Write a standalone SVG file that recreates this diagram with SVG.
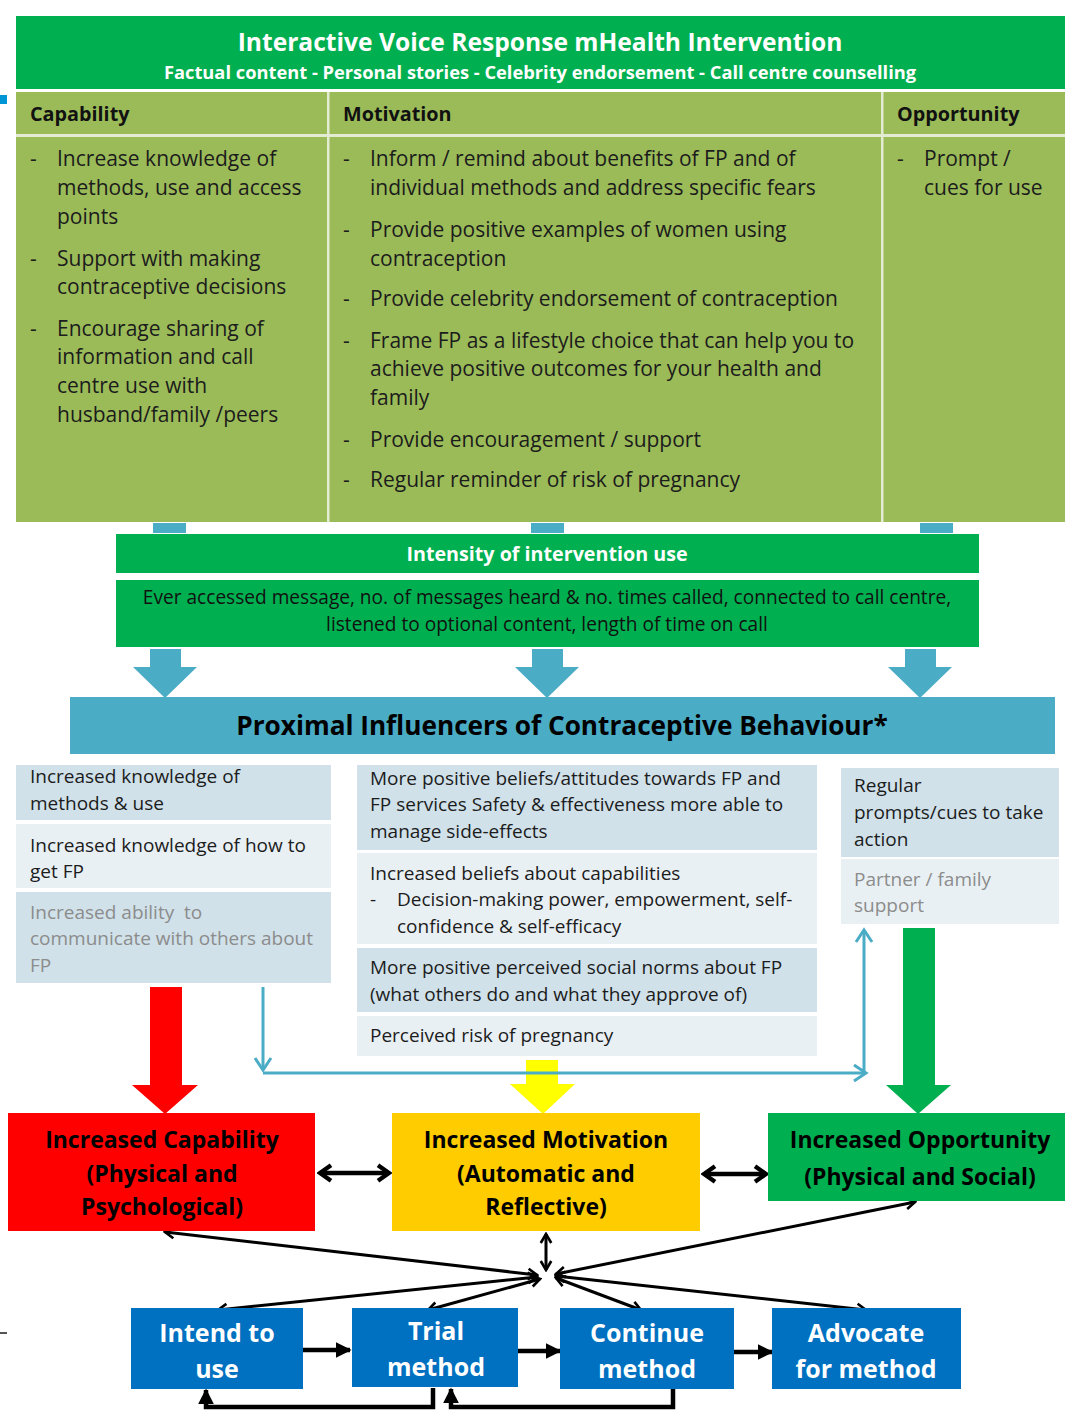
<svg xmlns="http://www.w3.org/2000/svg" width="1065" height="1411" viewBox="0 0 1065 1411">
<style>
text{font-family:"Open Sans",Lato,"Liberation Sans",sans-serif;}
.t{font-size:21px;fill:#1c1c1c;}
.h{font-size:19.8px;font-weight:bold;fill:#111;}
.p{font-size:19px;fill:#1c1c1c;}
.pg{font-size:19px;fill:#8c8c8c;}
.w{fill:#fff;font-weight:bold;}
.bx{font-size:23px;font-weight:bold;fill:#000;text-anchor:middle;}
.bw{font-size:25px;font-weight:bold;fill:#fff;text-anchor:middle;}
.c{text-anchor:middle;}
.thin{stroke:#000;stroke-width:3;fill:none;}
.thick{stroke:#000;stroke-width:4.5;fill:none;}
.blue{stroke:#4BACC6;stroke-width:3;fill:none;}
</style>
<defs>
<marker id="chev" viewBox="0 0 20 20" refX="17" refY="10" markerWidth="15" markerHeight="15" orient="auto-start-reverse" markerUnits="userSpaceOnUse"><path d="M5,3 L17,10 L5,17" fill="none" stroke="#000" stroke-width="3.5"/></marker>
<marker id="chevB" viewBox="0 0 20 20" refX="17" refY="10" markerWidth="22" markerHeight="22" orient="auto-start-reverse" markerUnits="userSpaceOnUse"><path d="M7,3 L17,10 L7,17" fill="none" stroke="#000" stroke-width="4"/></marker>
<marker id="tri" viewBox="0 0 10 10" refX="9" refY="5" markerWidth="16" markerHeight="18" orient="auto" markerUnits="userSpaceOnUse"><path d="M0,0 L10,5 L0,10 z" fill="#000"/></marker>
<marker id="bchev" viewBox="0 0 20 20" refX="17" refY="10" markerWidth="20" markerHeight="20" orient="auto" markerUnits="userSpaceOnUse"><path d="M5,2 L17,10 L5,18" fill="none" stroke="#4BACC6" stroke-width="3"/></marker>
</defs>
<rect width="1065" height="1411" fill="#fff"/>
<rect x="0" y="95" width="7" height="9" fill="#0096D6"/>
<rect x="0" y="1332" width="7" height="2" fill="#555"/>

<g id="header">
<rect x="16" y="16" width="1049" height="73" fill="#00AF50"/>
<text x="540" y="51" class="c w" font-size="24.6">Interactive Voice Response mHealth Intervention</text>
<text x="540" y="79" class="c w" font-size="18.3">Factual content - Personal stories - Celebrity endorsement - Call centre counselling</text>
</g>

<g id="table">
<rect x="16" y="92" width="1049" height="430" fill="#9BBB59"/>
<rect x="16" y="134" width="1049" height="3" fill="#E3EBD2"/>
<rect x="327" y="92" width="2.5" height="430" fill="#E3EBD2"/>
<rect x="881" y="92" width="2.5" height="430" fill="#E3EBD2"/>
<text x="30" y="121" class="h">Capability</text>
<text x="343" y="121" class="h">Motivation</text>
<text x="897" y="121" class="h">Opportunity</text>
<g class="t">
<text x="30" y="166">-</text><text x="57" y="166">Increase knowledge of</text>
<text x="57" y="195">methods, use and access</text>
<text x="57" y="224">points</text>
<text x="30" y="266">-</text><text x="57" y="266">Support with making</text>
<text x="57" y="294">contraceptive decisions</text>
<text x="30" y="336">-</text><text x="57" y="336">Encourage sharing of</text>
<text x="57" y="364">information and call</text>
<text x="57" y="393">centre use with</text>
<text x="57" y="422">husband/family /peers</text>

<text x="343" y="166">-</text><text x="370" y="166">Inform / remind about benefits of FP and of</text>
<text x="370" y="195">individual methods and address specific fears</text>
<text x="343" y="237">-</text><text x="370" y="237">Provide positive examples of women using</text>
<text x="370" y="266">contraception</text>
<text x="343" y="306">-</text><text x="370" y="306">Provide celebrity endorsement of contraception</text>
<text x="343" y="348">-</text><text x="370" y="348">Frame FP as a lifestyle choice that can help you to</text>
<text x="370" y="376">achieve positive outcomes for your health and</text>
<text x="370" y="405">family</text>
<text x="343" y="447">-</text><text x="370" y="447">Provide encouragement / support</text>
<text x="343" y="487">-</text><text x="370" y="487">Regular reminder of risk of pregnancy</text>

<text x="897" y="166">-</text><text x="924" y="166">Prompt /</text>
<text x="924" y="195">cues for use</text>
</g>
</g>

<g id="intensity">
<rect x="153" y="523" width="33" height="10" fill="#4BACC6"/>
<rect x="531" y="523" width="33" height="10" fill="#4BACC6"/>
<rect x="920" y="523" width="33" height="10" fill="#4BACC6"/>
<rect x="116" y="534" width="863" height="39" fill="#00AF50"/>
<text x="547" y="561" class="c w" font-size="19.7">Intensity of intervention use</text>
<rect x="116" y="580" width="863" height="67" fill="#00AF50"/>
<text x="547" y="604" class="c" font-size="19.1" fill="#111">Ever accessed message, no. of messages heard &amp; no. times called, connected to call centre,</text>
<text x="547" y="631" class="c" font-size="19.1" fill="#111">listened to optional content, length of time on call</text>
</g>

<g id="blue-arrows" fill="#4BACC6">
<polygon points="150,649 181,649 181,667 197,667 165,698 133,667 150,667"/>
<polygon points="532,649 563,649 563,667 579,667 547,698 515,667 532,667"/>
<polygon points="905,649 936,649 936,667 952,667 920,698 888,667 905,667"/>
</g>

<g id="proximal">
<rect x="70" y="697" width="985" height="57" fill="#4BACC6"/>
<text x="562" y="735" class="c" font-size="26.2" font-weight="bold" fill="#000">Proximal Influencers of Contraceptive Behaviour*</text>
</g>

<g id="prox-capability">
<rect x="16" y="765" width="315" height="55" fill="#D0E1EA"/>
<rect x="16" y="824" width="315" height="64" fill="#E9F0F4"/>
<rect x="16" y="892" width="315" height="91" fill="#D0E1EA"/>
<text x="30" y="783" class="p">Increased knowledge of</text>
<text x="30" y="810" class="p">methods &amp; use</text>
<text x="30" y="852" class="p">Increased knowledge of how to</text>
<text x="30" y="878" class="p">get FP</text>
<text x="30" y="919" class="pg" style="white-space:pre">Increased ability  to</text>
<text x="30" y="945" class="pg">communicate with others about</text>
<text x="30" y="972" class="pg">FP</text>
</g>

<g id="prox-motivation">
<rect x="357" y="765" width="460" height="85" fill="#D0E1EA"/>
<rect x="357" y="853" width="460" height="91" fill="#E9F0F4"/>
<rect x="357" y="948" width="460" height="64" fill="#D0E1EA"/>
<rect x="357" y="1016" width="460" height="40" fill="#E9F0F4"/>
<text x="370" y="785" class="p">More positive beliefs/attitudes towards FP and</text>
<text x="370" y="811" class="p">FP services Safety &amp; effectiveness more able to</text>
<text x="370" y="838" class="p">manage side-effects</text>
<text x="370" y="880" class="p">Increased beliefs about capabilities</text>
<text x="370" y="906" class="p">-</text><text x="397" y="906" class="p">Decision-making power, empowerment, self-</text>
<text x="397" y="933" class="p">confidence &amp; self-efficacy</text>
<text x="370" y="974" class="p">More positive perceived social norms about FP</text>
<text x="370" y="1001" class="p">(what others do and what they approve of)</text>
<text x="370" y="1042" class="p">Perceived risk of pregnancy</text>
</g>

<g id="prox-opportunity">
<rect x="841" y="768" width="218" height="89" fill="#D0E1EA"/>
<rect x="841" y="859" width="218" height="65" fill="#E9F0F4"/>
<text x="854" y="792" class="p">Regular</text>
<text x="854" y="819" class="p">prompts/cues to take</text>
<text x="854" y="846" class="p">action</text>
<text x="854" y="886" class="pg">Partner / family</text>
<text x="854" y="912" class="pg">support</text>
</g>

<g id="connectors">
<polygon points="150,987 182,987 182,1085 198,1085 165,1114 132,1085 150,1085" fill="#FF0000"/>
<polygon points="526,1060 558,1060 558,1084 575,1084 543,1114 510,1084 526,1084" fill="#FFFF00"/>
<polygon points="903,928 935,928 935,1085 951,1085 918,1114 886,1085 903,1085" fill="#00B050"/>
<path d="M263,987 V1070" class="blue" marker-end="url(#bchev)"/>
<path d="M263,1073 H866" class="blue" marker-end="url(#bchev)"/>
<path d="M864,1073 V930" class="blue" marker-end="url(#bchev)"/>

<path d="M320,1173 H389" class="thick" marker-start="url(#chevB)" marker-end="url(#chevB)"/>
<path d="M704,1174 H766" class="thick" marker-start="url(#chevB)" marker-end="url(#chevB)"/>

<path d="M537,1275 L165,1232" class="thin" marker-start="url(#chev)" marker-end="url(#chev)"/>
<path d="M537,1277 L218,1310" class="thin" marker-start="url(#chev)" marker-end="url(#chev)"/>
<path d="M540,1279 L428,1310" class="thin" marker-start="url(#chev)" marker-end="url(#chev)"/>
<path d="M546,1270 L546,1234" class="thin" marker-start="url(#chev)" marker-end="url(#chev)"/>
<path d="M556,1274 L915,1202" class="thin" marker-start="url(#chev)" marker-end="url(#chev)"/>
<path d="M556,1278 L641,1310" class="thin" marker-start="url(#chev)" marker-end="url(#chev)"/>
<path d="M556,1276 L866,1310" class="thin" marker-start="url(#chev)" marker-end="url(#chev)"/>

<path d="M303,1350 H350" class="thick" marker-end="url(#tri)"/>
<path d="M518,1351 H560" class="thick" marker-end="url(#tri)"/>
<path d="M734,1352 H772" class="thick" marker-end="url(#tri)"/>
<path d="M433,1388 V1407 H206 V1390" class="thick" marker-end="url(#tri)"/>
<path d="M673,1389 V1407 H451 V1389" class="thick" marker-end="url(#tri)"/>
</g>

<g id="capability">
<rect x="8" y="1113" width="307" height="118" fill="#FF0000"/>
<text x="162" y="1148" class="bx">Increased Capability</text>
<text x="162" y="1182" class="bx">(Physical and</text>
<text x="162" y="1215" class="bx">Psychological)</text>
</g>
<g id="motivation">
<rect x="392" y="1113" width="308" height="118" fill="#FFCC00"/>
<text x="546" y="1148" class="bx">Increased Motivation</text>
<text x="546" y="1182" class="bx">(Automatic and</text>
<text x="546" y="1215" class="bx">Reflective)</text>
</g>
<g id="opportunity">
<rect x="768" y="1113" width="297" height="88" fill="#00B050"/>
<text x="920" y="1148" class="bx">Increased Opportunity</text>
<text x="920" y="1185" class="bx">(Physical and Social)</text>
</g>

<g id="intend">
<rect x="131" y="1308" width="172" height="81" fill="#0070C0"/>
<text x="217" y="1342" class="bw">Intend to</text>
<text x="217" y="1378" class="bw">use</text>
</g>
<g id="trial">
<rect x="352" y="1308" width="166" height="79" fill="#0070C0"/>
<text x="436" y="1340" class="bw">Trial</text>
<text x="436" y="1376" class="bw">method</text>
</g>
<g id="continue">
<rect x="560" y="1308" width="174" height="81" fill="#0070C0"/>
<text x="647" y="1342" class="bw">Continue</text>
<text x="647" y="1378" class="bw">method</text>
</g>
<g id="advocate">
<rect x="772" y="1308" width="189" height="81" fill="#0070C0"/>
<text x="866" y="1342" class="bw">Advocate</text>
<text x="866" y="1378" class="bw">for method</text>
</g>
</svg>
